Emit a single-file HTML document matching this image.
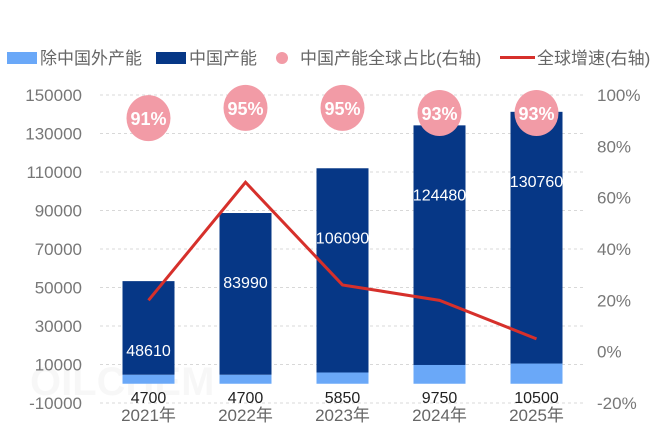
<!DOCTYPE html>
<html><head><meta charset="utf-8"><style>
body{margin:0;background:#fff;}
svg{display:block;font-family:"Liberation Sans","Noto Sans CJK SC",sans-serif;}
</style></head><body>
<svg id="c" width="661" height="440" xmlns="http://www.w3.org/2000/svg"></svg>
<script>
const categories=["2021年","2022年","2023年","2024年","2025年"];
const nonChina=[4700,4700,5850,9750,10500];
const china=[48610,83990,106090,124480,130760];
const share=[91,95,95,93,93];
const growth=[20,66,26,20,5];
const leftTicks=[-10000,10000,30000,50000,70000,90000,110000,130000,150000];
const rightTicks=[-20,0,20,40,60,80,100];
const NS="http://www.w3.org/2000/svg";
const svg=document.getElementById('c');
const x0=100,x1=585,yTop=95,yBot=403;
const yL=v=>yBot-(v+10000)/160000*(yBot-yTop);
const yR=v=>yBot-(v+20)/120*(yBot-yTop);
const bw=(x1-x0)/categories.length;
const xC=i=>x0+bw*(i+0.5);
function mk(t,a,txt){const e=document.createElementNS(NS,t);for(const k in a)e.setAttribute(k,a[k]);if(txt!==undefined)e.textContent=txt;svg.appendChild(e);return e;}
leftTicks.forEach(v=>{
 const g=mk('line',{x1:x0,x2:x1,y1:yL(v),y2:yL(v),stroke:'#d8d8d8','stroke-dasharray':'3,3'});
 
 
 const t=mk('text',{x:82,y:yL(v)+6,'text-anchor':'end','font-size':17,fill:'#777'},String(v));
 
 
});
rightTicks.forEach(v=>{
 const t=mk('text',{x:597,y:yR(v)+6,'font-size':17,fill:'#777'},v+'%');
 
 
});
const wm=mk('text',{x:30,y:395,'font-size':40,'font-weight':'bold',fill:'#000','fill-opacity':0.03},'OILCHEM');


categories.forEach((c,i)=>{
 const w=52,x=xC(i)-w/2;
 const b1=mk('rect',{x:x,y:yL(nonChina[i]),width:w,height:yL(0)-yL(nonChina[i]),fill:'#6aa8f8'});
 
 
 const tot=nonChina[i]+china[i];
 const b2=mk('rect',{x:x,y:yL(tot),width:w,height:yL(nonChina[i])-yL(tot),fill:'#063786'});
 
 
 const l2=mk('text',{x:xC(i),y:yL(tot)+75,'text-anchor':'middle','font-size':16,fill:'#fff'},String(china[i]));
 
 
 const l1=mk('text',{x:xC(i),y:yL(0)+19,'text-anchor':'middle','font-size':16,fill:'#222'},String(nonChina[i]));
 
 
 const xl=mk('text',{x:xC(i),y:421,'text-anchor':'middle','font-size':17,fill:'#666'},c);
 
 
});
const pts=growth.map((v,i)=>xC(i)+','+yR(v)).join(' ');
const pl=mk('polyline',{points:pts,fill:'none',stroke:'#d6302b','stroke-width':3});


share.forEach((v,i)=>{
 const e=mk('ellipse',{cx:xC(i),cy:yR(v),rx:22,ry:23,fill:'#f29ba6'});
 
 
 const t=mk('text',{x:xC(i),y:yR(v)+7,'text-anchor':'middle','font-size':18,'font-weight':'bold',fill:'#fff'},v+'%');
 
 
});
const L=[['rect',{x:7,y:52,width:30,height:12,fill:'#6aa8f8'},40,'除中国外产能','legend-non-china'],
 ['rect',{x:156,y:52,width:30,height:12,fill:'#063786'},189,'中国产能','legend-china'],
 ['circle',{cx:282,cy:58,r:6,fill:'#f29ba6'},300,'中国产能全球占比(右轴)','legend-share'],
 ['rect',{x:500,y:56,width:35,height:3,fill:'#d6302b'},537,'全球增速(右轴)','legend-growth']];
L.forEach(l=>{
 const s=mk(l[0],l[1]);
 
 
 const t=mk('text',{x:l[2],y:64,'font-size':17,fill:'#666'},l[3]);
 
 
});
</script>
</body></html>
